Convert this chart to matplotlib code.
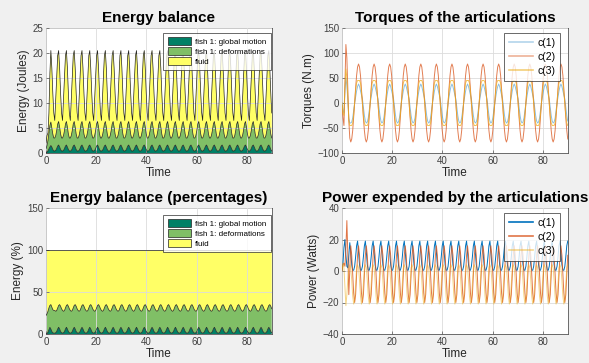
import matplotlib
matplotlib.use("Agg")
import matplotlib.pyplot as plt
from matplotlib.patches import Patch
from matplotlib.lines import Line2D
import numpy as np

plt.rcParams['font.family'] = ['Liberation Sans', 'DejaVu Sans']

# sample step: 8 samples per 3.1 s half period
dt = 0.3875
t = np.arange(0, 90.0001, dt)
n = len(t)

# ---- energy (Joules), cumulative tops of the stacked areas ----
e_glob_start = [0, 0.2, 0.4, 0.8, 1.2, 1.5, 1.2, 0.7, 0.4]
e_glob_cycle = [0.4, 0.5, 0.9, 1.4, 1.6, 1.2, 0.7, 0.4]
e_def_start = [0.8, 1.5, 2.5, 4.0, 5.5, 6.2, 5.0, 3.8, 3.0]
e_def_cycle = [3.0, 3.5, 4.5, 5.8, 6.3, 5.2, 3.8, 3.0]
e_tot_start = [2.0, 3.5, 4.0, 8.0, 16.0, 20.5, 17.0, 12.0, 8.0]
e_tot_cycle = [6.5, 11.0, 16.0, 19.5, 20.5, 17.0, 12.0, 8.0]

# ---- energy (%) cumulative tops ----
p_glob_start = [0, 0.5, 2, 5, 8, 6, 3, 1.5, 1]
p_glob_cycle = [1, 1.5, 3, 6, 8, 6, 3, 1.5]
p_def_start = [22, 24, 27, 31, 34, 35, 32, 29, 28]
p_def_cycle = [28, 27, 28, 31, 34, 35, 33, 30]
p_total = 100

# ---- torques (N.m), 16 samples per 6.2 s period ----
c1_start = [0, -15, -20, 25, 50, 35, 5, -30, -40]
c1_cycle = [-40, -38, -30, -15, 0, 12, 24, 33, 38, 33, 24, 16, 8, -8, -25, -36]
c2_start = [-5, -30, -45, 40, 117, 90, 30, -35, -70]
c2_cycle = [-78, -72, -55, -28, 0, 30, 55, 72, 78, 72, 55, 28, 0, -30, -55, -72]
c3_start = [0, -20, -25, 35, 68, 50, 10, -35, -45]
c3_cycle = [-45, -45, -40, -22, 2, 25, 40, 45, 45, 45, 40, 22, -2, -25, -40, -45]

# ---- power (Watts), 8 samples per 3.1 s ----
w1_start = [0, 5, 15, 20, 10, 3, 2, 10, 18]
w1_cycle = [12, 4, 0.5, 0.5, 3, 9, 16, 19]
w2_start = [0, 4, 5, 3, 15, 32, 10, -15, 0]
w2_cycle = [16, 10, -2, -14, -20, -15, -2, 10]
w3_start = [0, 5, 2, -10, -22, -15, -5, 2, 4]
w3_cycle = [2, -6, -16, -21, -18, -8, 2, 4]

energy_labels = ['fish 1: global motion', 'fish 1: deformations', 'fluid']
joint_labels = ['c(1)', 'c(2)', 'c(3)']


def series(start, cycle):
    reps = n // len(cycle) + 2
    return np.concatenate([start, np.tile(cycle, reps)])[:n]


summer = ['#008066', '#80bf66', '#ffff66']
mcol = ['#0072bd', '#d95319', '#edb120']

fig = plt.figure(figsize=(5.89, 3.63), dpi=100)
fig.patch.set_facecolor('#f0f0f0')

W, H = 589, 363
def make_ax(x0, x1, y0, y1):
    return fig.add_axes([x0 / W, 1 - y1 / H, (x1 - x0) / W, (y1 - y0) / H])

ax1 = make_ax(46, 272, 28, 153)
ax2 = make_ax(342, 568, 28, 153)
ax3 = make_ax(46, 272, 208, 334)
ax4 = make_ax(342, 568, 208, 334)


def style(ax, yticks, title, ylabel):
    ax.set_xlim(0, 90)
    ax.set_xticks([0, 20, 40, 60, 80])
    ax.set_ylim(yticks[0], yticks[-1])
    ax.set_yticks(yticks)
    ax.grid(True, color='#dcdcdc', lw=0.6)
    ax.set_axisbelow(False)
    for s in ax.spines.values():
        s.set_color('#555555')
        s.set_linewidth(0.6)
    ax.tick_params(direction='in', length=2.5, width=0.5, labelsize=7,
                   colors='#555555', labelcolor='#404040', pad=2)
    ax.set_title(title, fontsize=11, fontweight='bold', pad=4)
    ax.set_xlabel('Time', fontsize=8.5, labelpad=1, color='#262626')
    ax.set_ylabel(ylabel, fontsize=8.5, labelpad=2, color='#262626')


def stacked(ax, tops):
    lo = np.zeros(n)
    for top, c in zip(tops, summer):
        ax.fill_between(t, lo, top, facecolor=c, edgecolor='none', zorder=2)
        ax.plot(t, top, color='#222222', lw=0.5, zorder=3)
        lo = top


def finish_legend(leg):
    leg.get_frame().set_edgecolor('#262626')
    leg.get_frame().set_linewidth(0.6)
    leg.set_zorder(5)


def area_legend(ax, y):
    handles = [Patch(facecolor=c, edgecolor='#222222', lw=0.5) for c in summer]
    leg = ax.legend(handles, energy_labels, loc='upper right',
                    bbox_to_anchor=(0.995, y), fontsize=5.8, frameon=True,
                    fancybox=False, borderaxespad=0, handlelength=2.9,
                    handleheight=1.0, borderpad=0.55, labelspacing=0.2,
                    handletextpad=0.5)
    finish_legend(leg)


# Energy balance
stacked(ax1, [series(e_glob_start, e_glob_cycle),
              series(e_def_start, e_def_cycle),
              series(e_tot_start, e_tot_cycle)])
style(ax1, [0, 5, 10, 15, 20, 25], 'Energy balance', 'Energy (Joules)')
area_legend(ax1, 0.96)

# Energy balance (percentages)
stacked(ax3, [series(p_glob_start, p_glob_cycle),
              series(p_def_start, p_def_cycle),
              np.full(n, p_total)])
style(ax3, [0, 50, 100, 150], 'Energy balance (percentages)', 'Energy (%)')
area_legend(ax3, 0.945)

# Torques
torque_alpha = [0.45, 0.75, 0.75]
for st, cy, c, a in zip([c1_start, c2_start, c3_start],
                        [c1_cycle, c2_cycle, c3_cycle], mcol, torque_alpha):
    ax2.plot(t, series(st, cy), color=c, lw=0.7, alpha=a, zorder=3)
style(ax2, [-100, -50, 0, 50, 100, 150], 'Torques of the articulations', 'Torques (N.m)')

# Power
power_alpha = [1.0, 0.8, 0.55]
for st, cy, c, a in zip([w1_start, w2_start, w3_start],
                        [w1_cycle, w2_cycle, w3_cycle], mcol, power_alpha):
    ax4.plot(t, series(st, cy), color=c, lw=0.7, alpha=a, zorder=3)
style(ax4, [-40, -20, 0, 20, 40], 'Power expended by the articulations', 'Power (Watts)')

for ax, alist in ((ax2, [0.3, 0.45, 0.6]), (ax4, [1.0, 0.8, 0.5])):
    handles = [Line2D([], [], color=c, lw=1.2, alpha=a) for c, a in zip(mcol, alist)]
    leg = ax.legend(handles, joint_labels, loc='upper right',
                    bbox_to_anchor=(0.965, 0.96), fontsize=7.5,
                    frameon=True, fancybox=False, borderaxespad=0, handlelength=2.3,
                    borderpad=0.45, labelspacing=0.4, handletextpad=0.4)
    finish_legend(leg)

fig.savefig('out.png', dpi=100, facecolor=fig.get_facecolor())
